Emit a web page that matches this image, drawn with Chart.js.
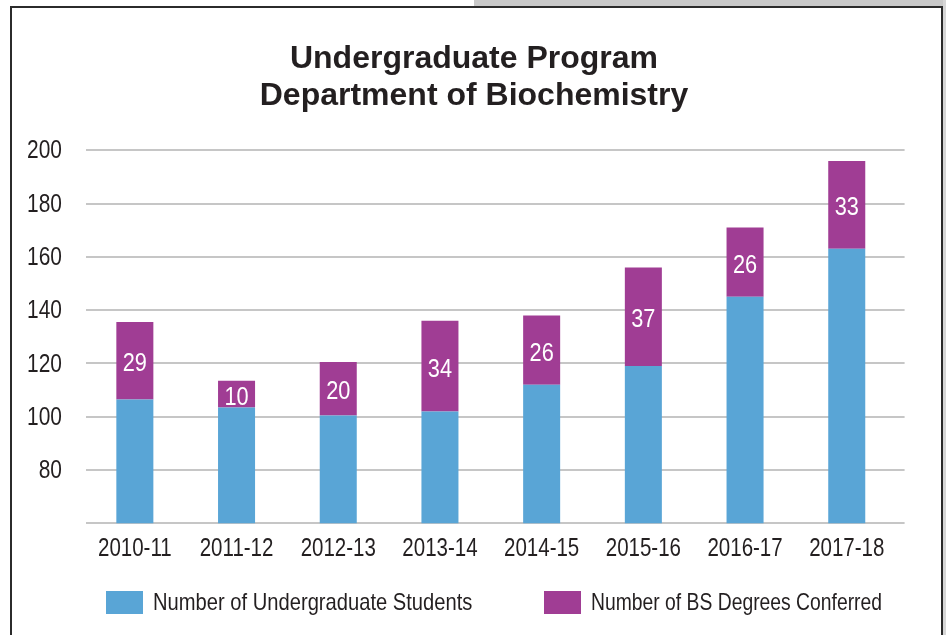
<!DOCTYPE html>
<html>
<head>
<meta charset="utf-8">
<script src="https://cdn.jsdelivr.net/npm/chart.js@4/dist/chart.umd.min.js"></script>
<style>
  html, body { margin:0; padding:0; }
  body { width:946px; height:635px; overflow:hidden; background:#fff; position:relative; }
  #band { position:absolute; left:474px; top:0; width:472px; height:8px; background:#c9c9c9; }
  #strip { position:absolute; left:943px; top:0; width:3px; height:635px; background:#d6d6d6; }
  #card { position:absolute; left:10px; top:6px; width:929px; height:700px; border:2px solid #2b2b2b; background:#fff; box-sizing:content-box; }
  #c { position:absolute; left:0; top:0; }
  .box { position:absolute; top:591px; width:37px; height:23px; }
  .ltxt { position:absolute; top:590px; line-height:24px; height:24px; white-space:nowrap;
          font-family:"Liberation Sans",Arial,sans-serif; font-size:24px; color:#231f20;
          transform-origin:0 50%; }
</style>
</head>
<body>
<div id="band"></div>
<div id="strip"></div>
<div id="card"></div>
<canvas id="c" width="946" height="635"></canvas>
<div id="legend"></div>
<script>
const categories = ["2010-11","2011-12","2012-13","2013-14","2014-15","2015-16","2016-17","2017-18"];
const undergraduateStudents = [106.5, 103.5, 100.5, 102, 112, 119, 145, 163];
const bsDegreesConferred = [29, 10, 20, 34, 26, 37, 26, 33];
const yTicks = [60, 80, 100, 120, 140, 160, 180, 200];
const seriesNames = ["Number of Undergraduate Students", "Number of BS Degrees Conferred"];
const seriesColors = ["#59a5d6", "#a03d94"];
const titleLines = ["Undergraduate Program", "Department of Biochemistry"];

const FONT = '"Liberation Sans",Arial,sans-serif';
const TEXT = '#231f20';
const SX = 0.82;

function squeezedText(ctx, text, x, y, align) {
  ctx.save();
  ctx.translate(x, y);
  ctx.scale(SX, 1);
  ctx.textAlign = align;
  ctx.textBaseline = 'alphabetic';
  ctx.fillText(text, 0, 0);
  ctx.restore();
}

const gridPlugin = {
  id: 'gridExt',
  beforeDatasetsDraw(chart) {
    const {ctx, chartArea, scales} = chart;
    ctx.save();
    ctx.strokeStyle = '#c6c6c6';
    ctx.lineWidth = 2;
    yTicks.forEach(v => {
      const y = Math.round(scales.y.getPixelForValue(v));
      ctx.beginPath();
      ctx.moveTo(chartArea.left + 2, y);
      ctx.lineTo(chartArea.right + 7, y);
      ctx.stroke();
    });
    ctx.restore();
  }
};

const axisLabelPlugin = {
  id: 'axisLabels',
  afterDraw(chart) {
    const {ctx, chartArea, scales} = chart;
    ctx.save();
    ctx.fillStyle = TEXT;
    const ys = 25.5;
    ctx.font = ys + 'px ' + FONT;
    yTicks.forEach((v, i) => {
      if (i === 0) return;
      const y = scales.y.getPixelForValue(v);
      squeezedText(ctx, String(v), chartArea.left - 22, y - 1 + 0.358 * ys, 'right');
    });
    const xs = 25;
    ctx.font = xs + 'px ' + FONT;
    categories.forEach((c, i) => {
      const x = scales.x.getPixelForTick(i);
      squeezedText(ctx, c, x, chartArea.bottom + 33, 'center');
    });
    ctx.restore();
  }
};

const labelPlugin = {
  id: 'segLabels',
  afterDatasetsDraw(chart) {
    const {ctx} = chart;
    const meta = chart.getDatasetMeta(1);
    const size = 26.5;
    ctx.save();
    ctx.fillStyle = '#ffffff';
    ctx.font = size + 'px ' + FONT;
    meta.data.forEach((bar, i) => {
      const cy = (bar.y + bar.base) / 2;
      squeezedText(ctx, String(bsDegreesConferred[i]), bar.x, cy + 1 + 0.358 * size, 'center');
    });
    ctx.restore();
  }
};

const chart = new Chart(document.getElementById('c'), {
  type: 'bar',
  data: {
    labels: categories,
    datasets: [
      { label: seriesNames[0], data: undergraduateStudents, backgroundColor: seriesColors[0], borderWidth: 0 },
      { label: seriesNames[1], data: bsDegreesConferred, backgroundColor: seriesColors[1], borderWidth: 0 }
    ]
  },
  options: {
    responsive: false,
    devicePixelRatio: 1,
    animation: false,
    categoryPercentage: 1,
    barPercentage: 0.364,
    layout: { padding: { left: 50.4, right: 48.4, top: 0, bottom: 111.7 } },
    plugins: {
      legend: { display: false },
      tooltip: { enabled: false },
      title: {
        display: true,
        text: titleLines,
        color: TEXT,
        font: { family: FONT, size: 32, weight: 'bold', lineHeight: 1.14 },
        padding: { top: 41, bottom: 36.3 }
      }
    },
    scales: {
      x: {
        stacked: true,
        grid: { display: false, drawTicks: false },
        border: { display: false },
        ticks: { display: false }
      },
      y: {
        stacked: true,
        min: yTicks[0],
        max: yTicks[yTicks.length - 1],
        afterBuildTicks(scale) { scale.ticks = yTicks.map(v => ({ value: v })); },
        afterFit(scale) { scale.width = 33.6; },
        grid: { display: false, drawTicks: false },
        border: { display: false },
        ticks: { display: false }
      }
    }
  },
  plugins: [gridPlugin, labelPlugin, axisLabelPlugin]
});

const legend = document.getElementById('legend');
const legendBoxX = [106, 544];
const legendTextScale = [0.84, 0.805];
chart.data.datasets.forEach((ds, i) => {
  const box = document.createElement('div');
  box.className = 'box';
  box.style.left = legendBoxX[i] + 'px';
  box.style.background = ds.backgroundColor;
  const txt = document.createElement('div');
  txt.className = 'ltxt';
  txt.style.left = (legendBoxX[i] + 47) + 'px';
  txt.style.transform = 'scaleX(' + legendTextScale[i] + ')';
  txt.textContent = ds.label;
  legend.appendChild(box);
  legend.appendChild(txt);
});
</script>
</body>
</html>
